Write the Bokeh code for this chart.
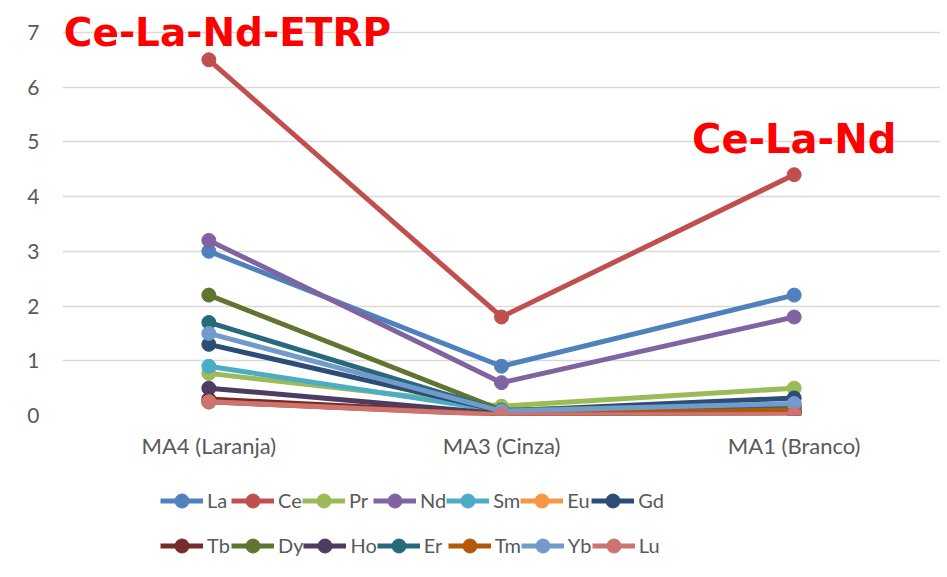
from bokeh.plotting import figure
from bokeh.layouts import column
from bokeh.models import Legend, LegendItem, Label, FactorRange, Range1d, FixedTicker
from bokeh.embed import file_html
from bokeh.resources import INLINE

samples = ["MA4 (Laranja)", "MA3 (Cinza)", "MA1 (Branco)"]
y_ticks = [0, 1, 2, 3, 4, 5, 6, 7]

elements = ["La", "Ce", "Pr", "Nd", "Sm", "Eu", "Gd",
            "Tb", "Dy", "Ho", "Er", "Tm", "Yb", "Lu"]

La = [3.0, 0.9, 2.2]
Ce = [6.5, 1.8, 4.4]
Pr = [0.77, 0.17, 0.5]
Nd = [3.2, 0.6, 1.8]
Sm = [0.9, 0.08, 0.12]
Eu = [0.25, 0.03, 0.05]
Gd = [1.3, 0.08, 0.32]
Tb = [0.3, 0.03, 0.05]
Dy = [2.2, 0.1, 0.2]
Ho = [0.5, 0.03, 0.05]
Er = [1.7, 0.08, 0.15]
Tm = [0.25, 0.02, 0.1]
Yb = [1.5, 0.08, 0.22]
Lu = [0.25, 0.01, 0.02]

series = [La, Ce, Pr, Nd, Sm, Eu, Gd, Tb, Dy, Ho, Er, Tm, Yb, Lu]

colors = ["#4F81BD", "#C0504D", "#9BBB59", "#8064A2", "#4BACC6", "#F79646", "#2C4D75",
          "#772C2A", "#5F7530", "#4D3B62", "#276A7C", "#B65708", "#729ACA", "#CD7371"]

annotations = ["Ce-La-Nd-ETRP", "Ce-La-Nd"]

# ---------------- main chart ----------------
# the frame reaches the top edge so the big red label is not clipped;
# ticks/grid stop at 7
p = figure(width=940, height=461,
           x_range=FactorRange(*samples, range_padding=0),
           y_range=Range1d(0, 7.5833),
           output_backend="svg", toolbar_location=None,
           min_border_left=62, min_border_right=0,
           min_border_top=0, min_border_bottom=45)

p.outline_line_color = None
p.background_fill_color = "white"
p.border_fill_color = "white"

p.xgrid.grid_line_color = None
p.ygrid.grid_line_color = "#D9D9D9"
p.ygrid.grid_line_width = 1.5

p.yaxis.ticker = FixedTicker(ticks=y_ticks)
for ax in (p.xaxis[0], p.yaxis[0]):
    ax.axis_line_color = None
    ax.major_tick_line_color = None
    ax.minor_tick_line_color = None
    ax.major_tick_out = 0
    ax.major_tick_in = 0
    ax.minor_tick_out = 0
    ax.major_label_text_font = "Lato"
    ax.major_label_text_color = "#595959"
p.yaxis.major_label_text_font_size = "21px"
p.xaxis.major_label_text_font_size = "22px"
p.yaxis.major_label_standoff = 23
p.xaxis.major_label_standoff = 16

for vals, col in zip(series, colors):
    p.line(samples, vals, line_color=col, line_width=5)
    p.scatter(samples, vals, size=14, fill_color=col, line_color=col)

# synthetic categorical coordinate: centre of a factor = index + 0.5
lab1 = Label(x=samples.index("MA4 (Laranja)") + 0.5, y=7, x_offset=-145, y_offset=0,
             text=annotations[0],
             text_align="left", text_baseline="alphabetic",
             text_font="DejaVu Sans", text_font_style="bold",
             text_font_size="39px", text_color="#FF0000")
lab2 = Label(x=samples.index("MA1 (Branco)") + 0.5, y=5, x_offset=0, y_offset=3,
             text=annotations[1],
             text_align="center", text_baseline="alphabetic",
             text_font="DejaVu Sans", text_font_style="bold",
             text_font_size="40px", text_color="#FF0000")
p.add_layout(lab1)
p.add_layout(lab2)

# ---------------- legend strip ----------------
# same series drawn outside the visible y range, only to feed the legend
p2 = figure(width=940, height=116,
            x_range=p.x_range, y_range=Range1d(-2, -1),
            x_axis_location=None, y_axis_location=None,
            output_backend="svg", toolbar_location=None,
            min_border_left=0, min_border_right=0,
            min_border_top=0, min_border_bottom=0)
p2.outline_line_color = None
p2.grid.visible = False

items = []
for name, vals, col in zip(elements, series, colors):
    ln = p2.line(samples, vals, line_color=col, line_width=5)
    sc = p2.scatter(samples, vals, size=14, fill_color=col, line_color=col)
    items.append(LegendItem(label=name, renderers=[ln, sc]))

for row, vy in ((0, 59.5), (1, 14.5)):
    leg = Legend(items=items[row * 7:(row + 1) * 7], orientation="horizontal",
                 location=(98, vy),
                 spacing=0, padding=0, margin=0,
                 glyph_width=43, glyph_height=35,
                 label_width=24, label_standoff=4,
                 label_text_font="Lato", label_text_font_size="20px",
                 label_text_color="#595959",
                 border_line_color=None, background_fill_alpha=0)
    p2.add_layout(leg, "center")

layout = column(p, p2, spacing=0)
open("out.html", "w").write(file_html(layout, INLINE))
